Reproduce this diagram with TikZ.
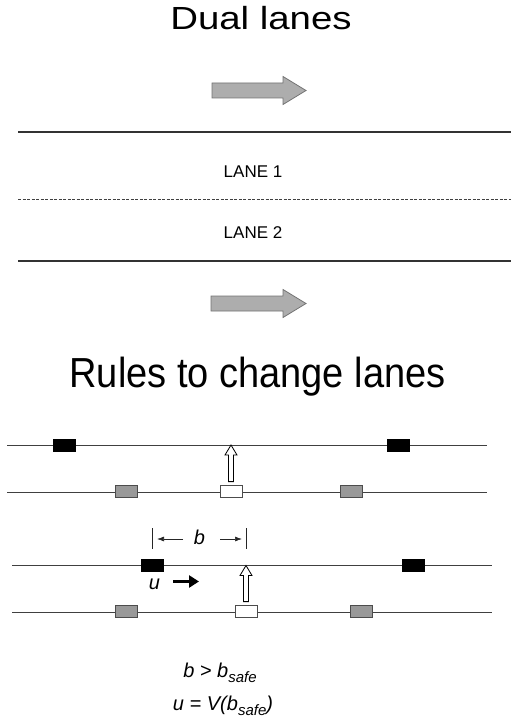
\documentclass[tikz,border=0pt]{standalone}
\usepackage{fontspec}
\setmainfont{Liberation Sans}
\usetikzlibrary{arrows.meta,calc}

\tikzset{
  road/.style={line width=1.6pt, draw=black!80},
  divider/.style={line width=0.9pt, draw=black!75, dash pattern=on 3pt off 1.5pt},
  track/.style={line width=0.9pt, draw=black!75},
  car/.style={rectangle, minimum width=22pt, minimum height=12pt, inner sep=0pt, draw=black!70, line width=0.8pt},
  blackcar/.style={car, fill=black, draw=black},
  graycar/.style={car, fill=black!40},
  whitecar/.style={car, fill=white},
  flowarrow/.style={fill=black!32, draw=black!55, line width=0.8pt},
  movearrow/.style={fill=white, draw=black, line width=0.8pt, line join=miter},
  dimline/.style={line width=0.7pt, draw=black!85},
  dimarrow/.style={dimline, -{Latex[length=7pt,width=5pt]}},
  speedarrow/.style={line width=3.5pt, -{Triangle[length=10pt,width=12pt]}},
  title/.style={font=\fontsize{32}{36}\selectfont, anchor=base, inner sep=0pt},
  lanelabel/.style={font=\fontsize{17}{20}\selectfont, inner sep=0pt},
  symbol/.style={font=\fontsize{20}{22}\selectfont\itshape, inner sep=0pt},
  formula/.style={font=\fontsize{20}{24}\selectfont\itshape, anchor=base, inner sep=0pt},
}

% subscript "safe" set below the baseline
\newcommand{\safesub}{\raisebox{-5pt}{\fontsize{15}{15}\selectfont safe}}

\begin{document}
\begin{tikzpicture}[x=1pt, y=-1pt]
\useasboundingbox (0,0) rectangle (511,719);

% ---------- dual lanes ----------
\node[title, xscale=1.2] (t1) at (261,30) {Dual lanes};

% traffic direction, above the road
\coordinate (f1) at (212,90.5);
\draw[flowarrow] (f1) ++(0,-7.5) -- ++(71,0) -- ++(0,-6.5) -- ++(23,14) -- ++(-23,14)
  -- ++(0,-6.5) -- ++(-71,0) -- cycle;

\coordinate (ra) at (18,132);  \coordinate (rb) at (511,132);
\coordinate (da) at (18,199);  \coordinate (db) at (511,199);
\coordinate (sa) at (18,261);  \coordinate (sb) at (511,261);
\draw[road] (ra) -- (rb);
\draw[divider] (da) -- (db);
\draw[road] (sa) -- (sb);

\node[lanelabel] (lane1) at (253,171.5) {LANE 1};
\node[lanelabel] (lane2) at (253,232.5) {LANE 2};

% traffic direction, below the road
\coordinate (f2) at (211,303.5);
\draw[flowarrow] (f2) ++(0,-7.5) -- ++(72,0) -- ++(0,-6.5) -- ++(23,14) -- ++(-23,14)
  -- ++(0,-6.5) -- ++(-72,0) -- cycle;

% ---------- rules to change lanes ----------
\node[title, font=\fontsize{42}{46}\selectfont, xscale=0.905] (t2) at (257.5,387) {Rules to change lanes};

% first situation
\coordinate (p1a) at (7,445);  \coordinate (p1b) at (487,445);
\coordinate (q1a) at (7,492);  \coordinate (q1b) at (487,492);
\draw[track] (p1a) -- (p1b);
\draw[track] (q1a) -- (q1b);

\node[blackcar] (b11) at (64,445) {};
\node[blackcar] (b12) at (398,445.5) {};
\node[graycar]  (g11) at (126.5,491.5) {};
\node[whitecar] (w1)  at (231,491.5) {};
\node[graycar]  (g12) at (351,491.5) {};

\coordinate (w1tip) at (w1.north |- p1a);
\draw[movearrow] let \p1=(w1tip), \p2=(w1.north) in
  (\x1,\y1) -- (\x1+6pt,\y1-10pt) -- (\x1+2.5pt,\y1-10pt) -- (\x1+2.5pt,\y2+3.5pt)
  -- (\x1-2.5pt,\y2+3.5pt) -- (\x1-2.5pt,\y1-10pt) -- (\x1-6pt,\y1-10pt) -- cycle;

% second situation
\coordinate (p2a) at (12,565.5);  \coordinate (p2b) at (492,565.5);
\coordinate (q2a) at (12,612);    \coordinate (q2b) at (492,612);
\draw[track] (p2a) -- (p2b);
\draw[track] (q2a) -- (q2b);

\node[blackcar] (b21) at (152.5,565.5) {};
\node[blackcar] (b22) at (413,565.5) {};
\node[graycar]  (g21) at (126,611.5) {};
\node[whitecar] (w2)  at (246,611.5) {};
\node[graycar]  (g22) at (361,611.5) {};

\coordinate (w2tip) at (w2.north |- p2a);
\draw[movearrow] let \p1=(w2tip), \p2=(w2.north) in
  (\x1,\y1) -- (\x1+6pt,\y1-10pt) -- (\x1+2.5pt,\y1-10pt) -- (\x1+2.5pt,\y2+3.5pt)
  -- (\x1-2.5pt,\y2+3.5pt) -- (\x1-2.5pt,\y1-10pt) -- (\x1-6pt,\y1-10pt) -- cycle;

% gap b between the car behind and the target position
\coordinate (k1a) at (152,528);  \coordinate (k1b) at (152,549);
\coordinate (k2a) at (246,528);  \coordinate (k2b) at (246,549);
\draw[dimline] (k1a) -- (k1b);
\draw[dimline] (k2a) -- (k2b);
\node[symbol, anchor=base] (blab) at (199.5,544) {b};
\coordinate (bl1) at (183,539);  \coordinate (bl2) at (157,539);
\coordinate (br1) at (220,539);  \coordinate (br2) at (242,539);
\draw[dimarrow] (bl1) -- (bl2);
\draw[dimarrow] (br1) -- (br2);

% speed of the car behind
\node[symbol, anchor=base] (ulab) at (154.5,589) {u};
\coordinate (ua) at (173,581.5);  \coordinate (ub) at (199,581.5);
\draw[speedarrow] (ua) -- (ub);

% conditions
\node[formula] (cond1) at (220,677) {b > b\safesub};
\node[formula] (cond2) at (223,710) {u = V(b\safesub)};

\end{tikzpicture}
\end{document}
